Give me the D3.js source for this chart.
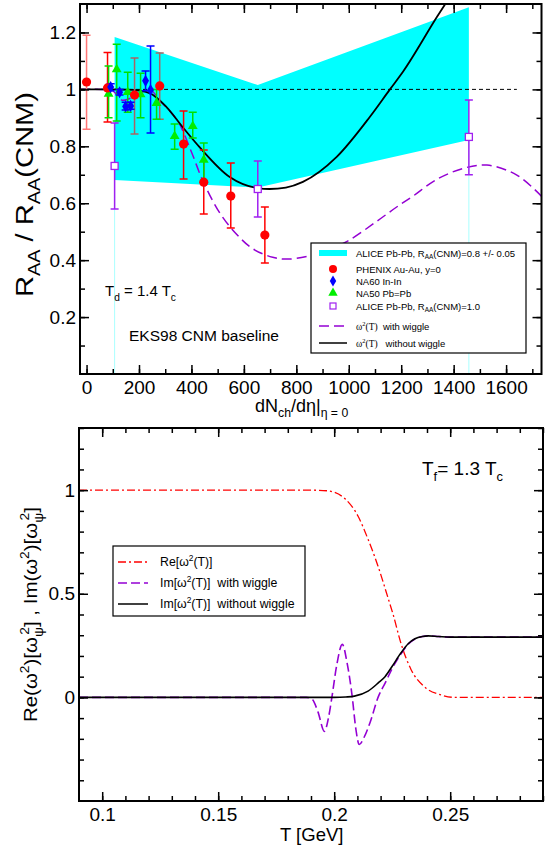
<!DOCTYPE html>
<html>
<head>
<meta charset="utf-8">
<script src="https://cdn.jsdelivr.net/npm/d3@7"></script>
<style>
  body { margin: 0; background: #fff; }
  text { font-family: "Liberation Sans", Arial, sans-serif; }
</style>
</head>
<body>
<svg id="chart" width="549" height="849"></svg>
<script>
// ---- top panel data (dNch/deta vs RAA/RAA(CNM)) ----
var bandX  = [107, 653, 1458];
var bandHi = [1.184, 1.015, 1.289];
var bandLo = [0.682, 0.655, 0.822];

var phenixX  = [0, 80, 183, 279, 370, 447, 550, 680];
var phenixY  = [1.026, 1.005, 0.98, 1.012, 0.808, 0.674, 0.625, 0.488];
var phenixHi = [1.19, 1.13, 1.11, 1.128, 0.924, 0.787, 0.741, 0.587];
var phenixLo = [0.86, 0.885, 0.843, 0.895, 0.685, 0.562, 0.513, 0.39];

var na60X  = [92, 126, 149, 168, 225, 244];
var na60Y  = [1.008, 0.99, 0.94, 0.942, 1.03, 0.998];
var na60Hi = [1.02, 1.0, 0.955, 0.955, 1.065, 1.152];
var na60Lo = [0.995, 0.98, 0.928, 0.93, 0.995, 0.847];

var na50X  = [84, 115, 157, 206, 267, 336, 405, 447];
var na50Y  = [0.984, 1.07, 0.99, 0.982, 0.952, 0.836, 0.871, 0.752];
var na50Hi = [1.082, 1.159, 1.06, 1.057, 1.0, 0.878, 0.92, 0.812];
var na50Lo = [0.9, 0.889, 0.92, 0.9, 0.895, 0.79, 0.829, 0.675];

var aliceX  = [107, 653, 1458];
var aliceY  = [0.731, 0.65, 0.833];
var aliceHi = [0.882, 0.748, 0.963];
var aliceLo = [0.58, 0.552, 0.70];

var noWigX = [-25, 100, 176, 240, 305, 366, 431, 546, 653, 698, 760, 825, 953, 1080, 1157, 1206, 1336, 1375];
var noWigY = [1.0, 1.0, 0.998, 0.987, 0.938, 0.868, 0.797, 0.692, 0.653, 0.65, 0.655, 0.675, 0.762, 0.903, 1.0, 1.061, 1.254, 1.31];

var wigX = [-25, 60, 100, 135, 165, 195, 240, 280, 347, 400, 443, 508, 573, 634, 710, 775, 889, 992, 1100, 1180, 1245, 1336, 1435, 1527, 1641, 1740];
var wigY = [1.0, 1.0, 0.995, 0.962, 0.968, 0.98, 1.0, 0.96, 0.89, 0.78, 0.68, 0.566, 0.49, 0.44, 0.41, 0.404, 0.425, 0.465, 0.532, 0.585, 0.625, 0.684, 0.722, 0.734, 0.699, 0.62];

var topXTicks = [0, 200, 400, 600, 800, 1000, 1200, 1400, 1600];
var topYTicks = [0.2, 0.4, 0.6, 0.8, 1.0, 1.2];

// ---- bottom panel data (T vs omega^2) ----
var reT = [0.09, 0.19, 0.197, 0.2, 0.2048, 0.2103, 0.2146, 0.2189, 0.2232, 0.2254, 0.2288, 0.2331, 0.2387, 0.246, 0.252, 0.29];
var reW = [1, 1, 0.997, 0.99, 0.957, 0.874, 0.763, 0.633, 0.48, 0.4, 0.26, 0.135, 0.053, 0.012, 0, 0];

var imNoT = [0.09, 0.2, 0.205, 0.2087, 0.2146, 0.219, 0.2219, 0.225, 0.2288, 0.232, 0.2348, 0.238, 0.2405, 0.245, 0.25, 0.29];
var imNoW = [0, 0, 0.002, 0.006, 0.03, 0.07, 0.1, 0.15, 0.215, 0.26, 0.283, 0.294, 0.297, 0.294, 0.291, 0.291];

var imWigT = [0.09, 0.188, 0.1906, 0.193, 0.1958, 0.1975, 0.199, 0.201, 0.2035, 0.2055, 0.2078, 0.2093, 0.2108, 0.213, 0.2155, 0.2189, 0.222, 0.225, 0.2288, 0.232, 0.2348, 0.238, 0.2405, 0.245, 0.25, 0.29];
var imWigW = [0, 0, -0.01, -0.07, -0.164, -0.1, 0, 0.15, 0.256, 0.17, 0, -0.15, -0.227, -0.19, -0.12, 0, 0.07, 0.14, 0.21, 0.258, 0.282, 0.294, 0.297, 0.294, 0.291, 0.291];

var botXTicks = [0.1, 0.15, 0.2, 0.25];
var botYTicks = [0, 0.5, 1];

var svg = d3.select("#chart");
var purple = "#9400d3";

function zip(xs, ys) { return xs.map(function (x, i) { return [x, ys[i]]; }); }

// rich text: parts of {t, sub, sup, dx, font}
function rich(sel, parts, size) {
    var cur = 0;
    parts.forEach(function (p) {
        var off = p.sub ? size * 0.3 : (p.sup ? -size * 0.42 : 0);
        var ts = sel.append("tspan").text(p.t).attr("dy", off - cur);
        if (p.sub || p.sup) ts.attr("font-size", size * 0.68);
        if (p.dx) ts.attr("dx", p.dx);
        if (p.font) ts.attr("font-family", p.font);
        cur = off;
    });
    return sel;
}

// frame with inward ticks on all 4 sides
function frame(g, x, y, xMaj, xMin, yMaj, yMin, xFmt, yFmt) {
    var r = x.range(), h = y.range();
    g.append("g").attr("transform", "translate(0," + h[0] + ")")
        .call(d3.axisBottom(x).tickValues(xMin).tickSize(-5).tickFormat(""));
    g.append("g").attr("transform", "translate(0," + h[0] + ")")
        .call(d3.axisBottom(x).tickValues(xMaj).tickSize(-9).tickPadding(7).tickFormat(xFmt))
        .attr("class", "lab");
    g.append("g").attr("transform", "translate(0," + h[1] + ")")
        .call(d3.axisTop(x).tickValues(xMin).tickSize(-5).tickFormat(""));
    g.append("g").attr("transform", "translate(0," + h[1] + ")")
        .call(d3.axisTop(x).tickValues(xMaj).tickSize(-9).tickFormat(""));
    g.append("g").attr("transform", "translate(" + r[0] + ",0)")
        .call(d3.axisLeft(y).tickValues(yMin).tickSize(-5).tickFormat(""));
    g.append("g").attr("transform", "translate(" + r[0] + ",0)")
        .call(d3.axisLeft(y).tickValues(yMaj).tickSize(-9).tickPadding(4).tickFormat(yFmt))
        .attr("class", "lab");
    g.append("g").attr("transform", "translate(" + r[1] + ",0)")
        .call(d3.axisRight(y).tickValues(yMin).tickSize(-5).tickFormat(""));
    g.append("g").attr("transform", "translate(" + r[1] + ",0)")
        .call(d3.axisRight(y).tickValues(yMaj).tickSize(-9).tickFormat(""));
    g.selectAll(".domain").remove();
    g.selectAll(".tick line").attr("stroke", "#000").attr("stroke-width", 1.5);
    g.selectAll(".lab text").attr("font-size", 19).attr("fill", "#000")
        .attr("font-family", "Liberation Sans, Arial, sans-serif");
    g.append("rect").attr("x", r[0]).attr("y", h[1])
        .attr("width", r[1] - r[0]).attr("height", h[0] - h[1])
        .attr("fill", "none").attr("stroke", "#000").attr("stroke-width", 2);
}

// ================= TOP PANEL =================
var xT = d3.scaleLinear().domain([-25, 1735]).range([80, 541.5]);
var yT = d3.scaleLinear().domain([0, 1.3]).range([374, 4]);
var gT = svg.append("g");

gT.append("clipPath").attr("id", "clipT").append("rect")
    .attr("x", 80).attr("y", 4).attr("width", 461.5).attr("height", 370);
var plotT = gT.append("g").attr("clip-path", "url(#clipT)");

// cyan band
var bandPts = bandX.map(function (x, i) { return [xT(x), yT(bandHi[i])]; })
    .concat(bandX.slice().reverse().map(function (x, i) {
        return [xT(x), yT(bandLo[bandX.length - 1 - i])];
    }));
plotT.append("path").attr("d", "M" + bandPts.join("L") + "Z").attr("fill", "#00ffff");
[bandX[0], bandX[bandX.length - 1]].forEach(function (bx, k) {
    var lo = k === 0 ? bandLo[0] : bandLo[bandLo.length - 1];
    plotT.append("line").attr("x1", xT(bx)).attr("x2", xT(bx))
        .attr("y1", yT(lo)).attr("y2", yT(0))
        .attr("stroke", "#aaffff").attr("stroke-width", 1);
});

// reference line at 1
plotT.append("line").attr("x1", xT(-25)).attr("x2", xT(1641))
    .attr("y1", yT(1)).attr("y2", yT(1))
    .attr("stroke", "#000").attr("stroke-width", 1).attr("stroke-dasharray", "4,3");

var lineT = d3.line().x(function (d) { return xT(d[0]); }).y(function (d) { return yT(d[1]); })
    .curve(d3.curveMonotoneX);
var lineTs = d3.line().x(function (d) { return xT(d[0]); }).y(function (d) { return yT(d[1]); })
    .curve(d3.curveCatmullRom.alpha(0.5));
plotT.append("path").attr("d", lineTs(zip(wigX, wigY))).attr("fill", "none")
    .attr("stroke", purple).attr("stroke-width", 1.5).attr("stroke-dasharray", "10,5");
plotT.append("path").attr("d", lineT(zip(noWigX, noWigY))).attr("fill", "none")
    .attr("stroke", "#000").attr("stroke-width", 1.8);

function errBars(xs, ys, hi, lo, colorFn, cap) {
    xs.forEach(function (x, i) {
        var c = colorFn(i);
        var px = xT(x);
        plotT.append("line").attr("x1", px).attr("x2", px).attr("y1", yT(hi[i])).attr("y2", yT(lo[i]))
            .attr("stroke", c).attr("stroke-width", 1.5);
        [hi[i], lo[i]].forEach(function (v) {
            plotT.append("line").attr("x1", px - cap).attr("x2", px + cap).attr("y1", yT(v)).attr("y2", yT(v))
                .attr("stroke", c).attr("stroke-width", 1.5);
        });
    });
}
errBars(aliceX, aliceY, aliceHi, aliceLo, function () { return "#a020f0"; }, 4);
errBars(phenixX, phenixY, phenixHi, phenixLo, function (i) {
    return i === 0 ? "#ff7777" : (i === 2 || i === 3 ? "#a86464" : "#ff0000");
}, 4);
errBars(na50X, na50Y, na50Hi, na50Lo, function () { return "#00e000"; }, 4);
errBars(na60X, na60Y, na60Hi, na60Lo, function () { return "#0000ff"; }, 4);

// markers
var sym = d3.symbol();
na50X.forEach(function (x, i) {
    plotT.append("path").attr("d", sym.type(d3.symbolTriangle).size(42)())
        .attr("transform", "translate(" + xT(x) + "," + yT(na50Y[i]) + ")").attr("fill", "#00ee00");
});
phenixX.forEach(function (x, i) {
    plotT.append("circle").attr("cx", xT(x)).attr("cy", yT(phenixY[i])).attr("r", 4.6).attr("fill", "#ff0000");
});
na60X.forEach(function (x, i) {
    plotT.append("path").attr("d", sym.type(d3.symbolDiamond).size(42)())
        .attr("transform", "translate(" + xT(x) + "," + yT(na60Y[i]) + ")").attr("fill", "#0000ff");
});
aliceX.forEach(function (x, i) {
    plotT.append("rect").attr("x", xT(x) - 3.5).attr("y", yT(aliceY[i]) - 3.5)
        .attr("width", 7).attr("height", 7).attr("fill", "#fff")
        .attr("stroke", "#a020f0").attr("stroke-width", 1.3);
});

frame(gT, xT, yT, topXTicks, d3.range(-0, 1800, 100), topYTicks, d3.range(0.1, 1.3, 0.1),
    function (d) { return String(d); }, function (d) { return d === 1 ? "1" : d.toFixed(1); });

// axis titles
rich(gT.append("text").attr("x", 255).attr("y", 412).attr("font-size", 18),
    [{ t: "dN" }, { t: "ch", sub: true }, { t: "/d\u03b7|" }, { t: "\u03b7 = 0", sub: true }], 18);
rich(gT.append("text").attr("transform", "translate(33,297) rotate(-90)").attr("font-size", 23)
    .attr("textLength", 205).attr("lengthAdjust", "spacingAndGlyphs"),
    [{ t: "R" }, { t: "AA", sub: true }, { t: " / R" }, { t: "AA", sub: true }, { t: "(CNM)" }], 23);

rich(gT.append("text").attr("x", 105).attr("y", 296).attr("font-size", 15),
    [{ t: "T" }, { t: "d", sub: true }, { t: " = 1.4 T" }, { t: "c", sub: true }], 15);
gT.append("text").attr("x", 129).attr("y", 341).attr("font-size", 15.5).text("EKS98 CNM baseline");

// legend
var lg = gT.append("g");
lg.append("rect").attr("x", 311).attr("y", 243).attr("width", 215).attr("height", 110)
    .attr("fill", "#fff").attr("stroke", "#000").attr("stroke-width", 1.2);
var rows = [253, 269, 281, 293, 306, 326, 343];
lg.append("rect").attr("x", 319).attr("y", rows[0] - 3).attr("width", 28).attr("height", 6).attr("fill", "#00ffff");
lg.append("circle").attr("cx", 333).attr("cy", rows[1]).attr("r", 4).attr("fill", "#ff0000");
lg.append("path").attr("d", sym.type(d3.symbolDiamond).size(36)()).attr("transform", "translate(333," + rows[2] + ")").attr("fill", "#0000ff");
lg.append("path").attr("d", sym.type(d3.symbolTriangle).size(38)()).attr("transform", "translate(333," + rows[3] + ")").attr("fill", "#00ee00");
lg.append("rect").attr("x", 330).attr("y", rows[4] - 3).attr("width", 6).attr("height", 6)
    .attr("fill", "#fff").attr("stroke", "#a020f0").attr("stroke-width", 1.2);
lg.append("line").attr("x1", 319).attr("x2", 347).attr("y1", rows[5]).attr("y2", rows[5])
    .attr("stroke", purple).attr("stroke-width", 1.5).attr("stroke-dasharray", "10,5");
lg.append("line").attr("x1", 319).attr("x2", 347).attr("y1", rows[6]).attr("y2", rows[6])
    .attr("stroke", "#000").attr("stroke-width", 1.5);
var lgTexts = [
    [{ t: "ALICE Pb-Pb, R" }, { t: "AA", sub: true }, { t: "(CNM)=0.8 +/- 0.05" }],
    [{ t: "PHENIX Au-Au, y=0" }],
    [{ t: "NA60 In-In" }],
    [{ t: "NA50 Pb=Pb" }],
    [{ t: "ALICE Pb-Pb, R" }, { t: "AA", sub: true }, { t: "(CNM)=1.0" }],
    [{ t: "\u03c9", font: "Liberation Serif" }, { t: "2", sup: true, font: "Liberation Serif" }, { t: "(T)", font: "Liberation Serif" }, { t: "  with wiggle" }],
    [{ t: "\u03c9", font: "Liberation Serif" }, { t: "2", sup: true, font: "Liberation Serif" }, { t: "(T)", font: "Liberation Serif" }, { t: "   without wiggle" }]
];
lgTexts.forEach(function (parts, i) {
    rich(lg.append("text").attr("x", 356).attr("y", rows[i] + 3.5).attr("font-size", 9.5)
        .style("white-space", "pre"), parts, 9.5);
});

// ================= BOTTOM PANEL =================
var xB = d3.scaleLinear().domain([0.09, 0.29]).range([79, 543]);
var yB = d3.scaleLinear().domain([-0.5, 1.3]).range([801, 428]);
var gB = svg.append("g");
gB.append("clipPath").attr("id", "clipB").append("rect")
    .attr("x", 79).attr("y", 428).attr("width", 464).attr("height", 373);
var plotB = gB.append("g").attr("clip-path", "url(#clipB)");

var lineB = d3.line().x(function (d) { return xB(d[0]); }).y(function (d) { return yB(d[1]); })
    .curve(d3.curveMonotoneX);
plotB.append("path").attr("d", lineB(zip(reT, reW))).attr("fill", "none")
    .attr("stroke", "#ff0000").attr("stroke-width", 1.3).attr("stroke-dasharray", "8,3,2,3");
plotB.append("path").attr("d", lineB(zip(imWigT, imWigW))).attr("fill", "none")
    .attr("stroke", purple).attr("stroke-width", 1.6).attr("stroke-dasharray", "9,4");
plotB.append("path").attr("d", lineB(zip(imNoT, imNoW))).attr("fill", "none")
    .attr("stroke", "#000").attr("stroke-width", 1.6);

frame(gB, xB, yB, botXTicks, d3.range(0.1, 0.2901, 0.01), botYTicks, d3.range(-0.4, 1.301, 0.1),
    function (d) { return String(d); }, function (d) { return String(d); });

rich(gB.append("text").attr("x", 422).attr("y", 475).attr("font-size", 19),
    [{ t: "T" }, { t: "f", sub: true }, { t: "= 1.3 T" }, { t: "c", sub: true }], 19);
gB.append("text").attr("x", 280).attr("y", 841).attr("font-size", 18.5).text("T [GeV]");
rich(gB.append("text").attr("transform", "translate(37,722) rotate(-90)").attr("font-size", 19)
    .attr("textLength", 215).attr("lengthAdjust", "spacingAndGlyphs"),
    [{ t: "Re(\u03c9" }, { t: "2", sup: true }, { t: ")[\u03c9" }, { t: "\u03c8", sub: true }, { t: "2", sup: true, dx: -7 },
     { t: "] , Im(\u03c9" }, { t: "2", sup: true }, { t: ")[\u03c9" }, { t: "\u03c8", sub: true }, { t: "2", sup: true, dx: -7 }, { t: "]" }], 19);

// bottom legend
var lb = gB.append("g");
lb.append("rect").attr("x", 113).attr("y", 546).attr("width", 192).attr("height", 70)
    .attr("fill", "#fff").attr("stroke", "#000").attr("stroke-width", 1.2);
var brow = [562, 583, 604];
lb.append("line").attr("x1", 118).attr("x2", 148).attr("y1", brow[0]).attr("y2", brow[0])
    .attr("stroke", "#ff0000").attr("stroke-width", 1.3).attr("stroke-dasharray", "8,3,2,3");
lb.append("line").attr("x1", 118).attr("x2", 148).attr("y1", brow[1]).attr("y2", brow[1])
    .attr("stroke", purple).attr("stroke-width", 1.5).attr("stroke-dasharray", "9,4");
lb.append("line").attr("x1", 118).attr("x2", 148).attr("y1", brow[2]).attr("y2", brow[2])
    .attr("stroke", "#000").attr("stroke-width", 1.5);
var lbTexts = [
    [{ t: "Re[\u03c9" }, { t: "2", sup: true }, { t: "(T)]" }],
    [{ t: "Im[\u03c9" }, { t: "2", sup: true }, { t: "(T)]  with wiggle" }],
    [{ t: "Im[\u03c9" }, { t: "2", sup: true }, { t: "(T)]  without wiggle" }]
];
lbTexts.forEach(function (parts, i) {
    rich(lb.append("text").attr("x", 160).attr("y", brow[i] + 4).attr("font-size", 12.3)
        .style("white-space", "pre"), parts, 12.3);
});
</script>
</body>
</html>
